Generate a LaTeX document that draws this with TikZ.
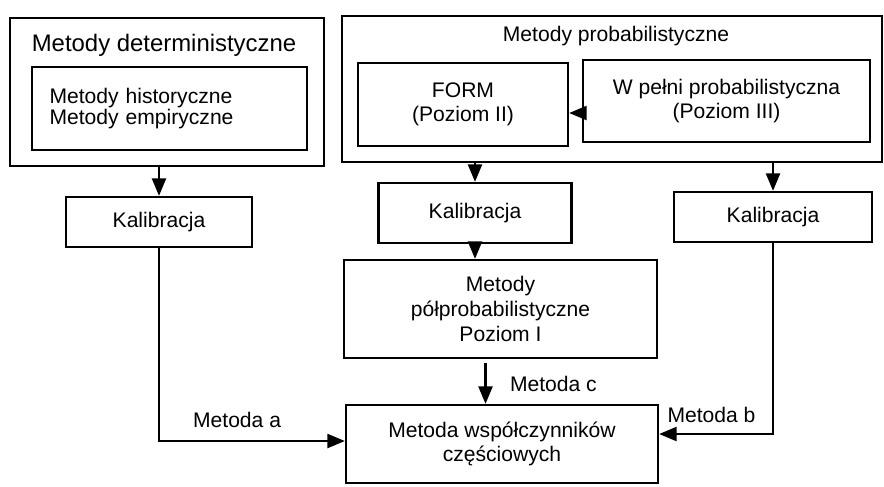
\documentclass[tikz,border=0pt]{standalone}
\usepackage{fontspec}
\setmainfont{Liberation Sans}
\usetikzlibrary{arrows.meta}

\begin{document}
\begin{tikzpicture}[
  box/.style={draw, line width=1.3pt, align=center, inner sep=0pt},
  arr/.style={line width=1.3pt, -{Triangle[length=10pt,width=8pt]}},
  txt/.style={font=\fontsize{12}{14}\selectfont},
  every node/.append style={txt}]
\useasboundingbox (0,0) rectangle (17.68,-9.72);

% grupy metod
\node[box, minimum width=6.28cm, minimum height=2.96cm] (det) at (3.34,-1.84) {};
\node[font=\fontsize{13.6}{16}\selectfont] (dettitle) at (3.28,-0.90) {Metody deterministyczne};
\node[box, minimum width=5.5cm, minimum height=1.66cm, text width=4.8cm, align=left,
      font=\fontsize{12}{11.5}\selectfont] (hist) at (3.39,-2.17)
      {Metody historyczne\\Metody empiryczne\\[0.25cm]};

\node[box, minimum width=10.8cm, minimum height=2.92cm] (prob) at (12.24,-1.78) {};
\node (probtitle) at (12.32,-0.72) {Metody probabilistyczne};
\node[box, minimum width=4.2cm, minimum height=1.66cm] (form) at (9.26,-2.09) {FORM\\(Poziom II)};
\node[box, minimum width=5.74cm, minimum height=1.64cm] (full) at (14.53,-2.02)
      {W pełni probabilistyczna\\(Poziom III)};

% kalibracja
\node[box, minimum width=3.72cm, minimum height=1.0cm] (kala) at (3.18,-4.44) {Kalibracja};
\node[box, minimum width=3.86cm, minimum height=1.2cm] (kalb) at (9.50,-4.26) {Kalibracja};
\node[box, minimum width=3.96cm, minimum height=1.0cm] (kalc) at (15.46,-4.34) {Kalibracja};

\node[box, minimum width=6.26cm, minimum height=1.96cm] (polprob) at (10.01,-6.18)
      {Metody\\półprobabilistyczne\\Poziom I};
\node[box, minimum width=6.24cm, minimum height=1.56cm] (wsp) at (10.04,-8.88)
      {Metoda współczynników\\częściowych};

\draw[arr] ([yshift=-0.24cm]full.west) -- ([yshift=-0.24cm]full.west -| form.east);
\draw[arr] (det.south -| kala.north) -- (kala.north);
\draw[arr] (prob.south -| kalb.north) -- (kalb.north);
\draw[arr] (prob.south -| kalc.north) -- (kalc.north);
\draw[arr] (kalb.south) -- (kalb.south |- polprob.north);

\draw[arr] ([xshift=-0.3cm,yshift=-0.08cm]polprob.south) -- ([xshift=-0.3cm]polprob.south |- wsp.north)
      node[midway, right=0.35cm] (metc) {Metoda c};
\draw[arr] (kala.south) |- ([yshift=0.06cm]wsp.west)
      node[pos=0.71, above=0.12cm] (meta) {Metoda a};
\draw[arr] (kalc.south) |- ([yshift=0.2cm]wsp.east)
      node[pos=0.77, above=0.08cm] (metb) {Metoda b};
\end{tikzpicture}
\end{document}
